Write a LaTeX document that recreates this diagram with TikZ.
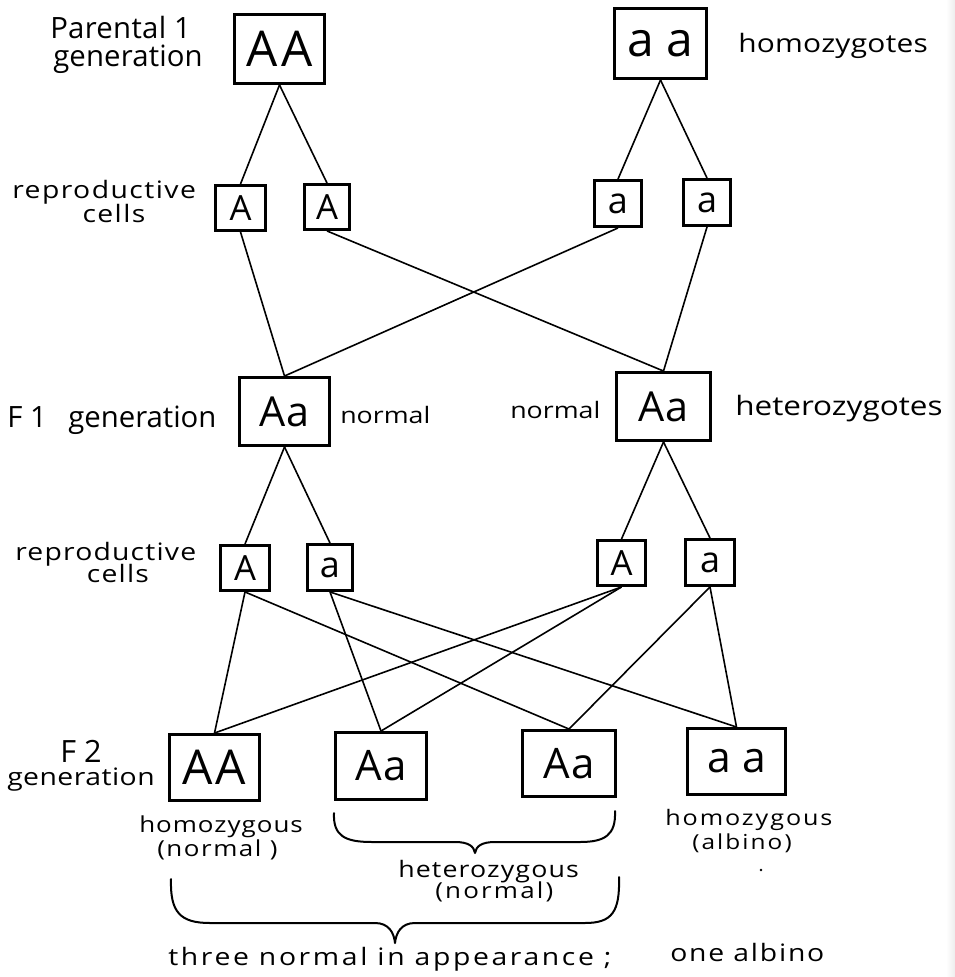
\documentclass[tikz,border=0pt]{standalone}
\usepackage{fontspec}
\newfontfamily\hand{Open Sans}
\newfontfamily\handw[FakeStretch=1.18]{Open Sans}
% hand-lettered look: size (pt) and tracking
\newcommand\hf[2]{\hand\fontsize{#1}{#1}\selectfont\addfontfeature{LetterSpace=#2}}
\newcommand\hw[2]{\handw\fontsize{#1}{#1}\selectfont\addfontfeature{LetterSpace=#2}}
\tikzset{
  box/.style={draw, line width=2.2pt, inner sep=0pt},
  link/.style={line width=1.2pt},
  brace/.style={line width=1.5pt, line cap=round, line join=round},
  lbl/.style={inner sep=0pt, anchor=base west},
  clbl/.style={inner sep=0pt, anchor=base},
}
\begin{document}
\begin{tikzpicture}[x=0.75pt, y=-0.75pt]
\useasboundingbox (0,0) rectangle (955,977);
\fill[white] (0,0) rectangle (955,977);
\shade[left color=white, right color=gray!14] (946,0) rectangle (955,977);

% parental generation
\node[box, minimum width=90*0.75pt, minimum height=69*0.75pt, font=\hf{37}{8}] (pAA) at (279.5,49) {AA};
\node[box, minimum width=92*0.75pt, minimum height=70*0.75pt, font=\hf{36}{0}] (paa) at (660.5,43.5) {a a};

% reproductive cells of the parents
\node[box, minimum width=50*0.75pt, minimum height=45*0.75pt, font=\hf{26}{0}] (gA1) at (240.5,208) {A};
\node[box, minimum width=45*0.75pt, minimum height=45*0.75pt, font=\hf{26}{0}] (gA2) at (327,207) {A};
\node[box, minimum width=47*0.75pt, minimum height=46*0.75pt, font=\hf{27}{0}] (ga1) at (618,203.5) {a};
\node[box, minimum width=47*0.75pt, minimum height=46*0.75pt, font=\hf{27}{0}] (ga2) at (707,202.5) {a};

% F1 generation
\node[box, minimum width=90*0.75pt, minimum height=68*0.75pt, font=\hf{31}{4}] (f1L) at (284.5,411.5) {Aa};
\node[box, minimum width=94*0.75pt, minimum height=68*0.75pt, font=\hf{31}{4}] (f1R) at (663.5,406.5) {Aa};

% reproductive cells of F1
\node[box, minimum width=49*0.75pt, minimum height=45*0.75pt, font=\hf{26}{0}] (hA1) at (245,568) {A};
\node[box, minimum width=45*0.75pt, minimum height=46*0.75pt, font=\hf{27}{0}] (ha1) at (330,567.5) {a};
\node[box, minimum width=48*0.75pt, minimum height=45*0.75pt, font=\hf{26}{0}] (hA2) at (621.5,563) {A};
\node[box, minimum width=49*0.75pt, minimum height=46*0.75pt, font=\hf{27}{0}] (ha2) at (710,562.5) {a};

% F2 generation
\node[box, minimum width=90*0.75pt, minimum height=66*0.75pt, font=\hf{36}{6}] (fAA) at (214.5,767.5) {AA};
\node[box, minimum width=91*0.75pt, minimum height=67*0.75pt, font=\hf{31.5}{4}] (fAa1) at (381,766) {Aa};
\node[box, minimum width=93*0.75pt, minimum height=66*0.75pt, font=\hf{31.5}{4}] (fAa2) at (569,763.5) {Aa};
\node[box, minimum width=98*0.75pt, minimum height=66*0.75pt, font=\hf{32}{0}] (faa) at (736.5,761.5) {a a};

% descent lines
\draw[link] (pAA.south) -- (gA1.north);
\draw[link] (pAA.south) -- (gA2.north);
\draw[link] (paa.south) -- (ga1.north);
\draw[link] (paa.south) -- (ga2.north);
\draw[link] (gA1.south) -- (f1L.north);
\draw[link] (ga1.south) -- (f1L.north);
\draw[link] (gA2.south) -- (f1R.north);
\draw[link] (ga2.south) -- (f1R.north);
\draw[link] (f1L.south) -- (hA1.north);
\draw[link] (f1L.south) -- (ha1.north);
\draw[link] (f1R.south) -- (hA2.north);
\draw[link] (f1R.south) -- (ha2.north);
\draw[link] (hA1.south) -- (fAA.north);
\draw[link] (hA2.south) -- (fAA.north);
\draw[link] (ha1.south) -- (fAa1.north);
\draw[link] (hA2.south) -- (fAa1.north);
\draw[link] (hA1.south) -- (fAa2.north);
\draw[link] (ha2.south) -- (fAa2.north);
\draw[link] (ha1.south) -- (faa.north);
\draw[link] (ha2.south) -- (faa.north);

% labels
\node[lbl, font=\hf{22}{1}] (lp1) at (50,39) {Parental 1};
\node[lbl, font=\hf{22}{0.5}] (lp2) at (53,67) {generation};
\node[lbl, font=\hw{19}{1}] (lhomo) at (738,53) {homozygotes};
\node[lbl, font=\hw{18}{6}] (lrep1) at (12,198) {reproductive};
\node[clbl, font=\hw{18}{6}] (lcell1) at (114,222) {cells};
\node[lbl, font=\hf{22}{0}] (lf1a) at (7,427) {F 1};
\node[lbl, font=\hf{22}{0}] (lf1b) at (68,427) {generation};
\node[lbl, font=\hw{17}{0}] (lnorm1) at (340,423) {normal};
\node[lbl, font=\hw{17}{0}] (lnorm2) at (510,418) {normal};
\node[lbl, font=\hw{20}{0}] (lhet) at (735,415) {heterozygotes};
\node[lbl, font=\hw{18}{5}] (lrep2) at (15,560) {reproductive};
\node[clbl, font=\hw{18}{5}] (lcell2) at (118,582) {cells};
\node[clbl, font=\hf{23}{0}] (lf2a) at (81,762) {F 2};
\node[lbl, font=\hw{18}{2}] (lf2b) at (7,785) {generation};
\node[lbl, font=\hw{16.5}{4.5}] (lhz1) at (139,832) {homozygous};
\node[lbl, font=\hw{16.5}{7}] (lhz1n) at (157,856) {(normal )};
\node[lbl, font=\hw{17}{5}] (lhtz) at (398,877) {heterozygous};
\node[lbl, font=\hw{16.5}{10}] (lhtzn) at (435,898) {(normal)};
\node[lbl, font=\hw{16}{9}] (lhz2) at (665,825) {homozygous};
\node[lbl, font=\hw{15.5}{10}] (lhz2a) at (692,849) {(albino)};
\node[lbl, font=\hw{18}{11}] (lthree) at (168,965) {three normal in appearance ;};
\node[lbl, font=\hw{18}{7.5}] (lone) at (670,961) {one albino};

% braces
\draw[brace] (334,813) .. controls (333,836) and (345,842) .. (372,842) -- (455,842)
  .. controls (468,842) and (474,846) .. (475,853)
  .. controls (476,846) and (482,842) .. (495,842) -- (580,842)
  .. controls (605,842) and (616,835) .. (615,811);
\draw[brace] (171,879) .. controls (170,912) and (180,923) .. (210,923) -- (375,923)
  .. controls (389,923) and (394,933) .. (395,943)
  .. controls (396,933) and (401,923) .. (415,923) -- (585,923)
  .. controls (612,923) and (620,912) .. (619,877);

% speck
\fill (761,870) circle (1.3);
\end{tikzpicture}
\end{document}
